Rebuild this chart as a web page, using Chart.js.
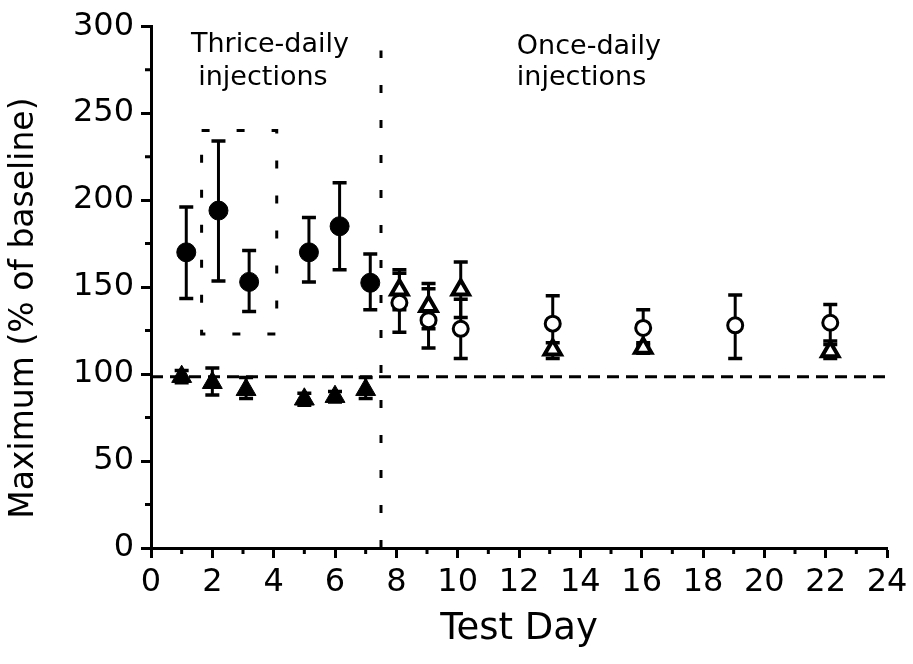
<!DOCTYPE html>
<html><head><meta charset="utf-8">
<script src="https://cdn.jsdelivr.net/npm/chart.js@4.4.1/dist/chart.umd.min.js"></script>
<style>html,body{margin:0;padding:0;background:#fff}</style>
</head><body>
<canvas id="c" width="913" height="664"></canvas>
<script>
// ---- data ----
const thriceDays   = [1.15, 2.2, 3.2, 5.15, 6.15, 7.15];
const thriceDrug   = [170, 194, 153, 170, 185, 152.5];
const thriceDrugHi = [196, 234, 171, 190, 210, 169];
const thriceDrugLo = [143.5, 153.5, 136, 153, 160, 137];

const salineDays = [1, 2, 3.1, 5, 6, 7];
const saline     = [98.5, 95, 91, 85.5, 87, 91];
const salineHi   = [102, 103.5, 98, 89, 90, 98];
const salineLo   = [95, 88, 86, 82, 84, 86];

const onceDays   = [8.1, 9.05, 10.1, 13.1, 16.05, 19.05, 22.15];
const onceDrug   = [141, 131, 126, 129, 126.5, 128, 129.5];
const onceDrugHi = [158, 149, 143, 145, 137, 145.5, 140];
const onceDrugLo = [124, 115, 109, 113, 116.5, 109, 119];

const onceTriDays = [8.1, 9.05, 10.1, 13.1, 16.05, 22.15];
const onceTri     = [148.5, 139, 148.5, 114, 115, 113];
const onceTriHi   = [160, 152, 164.5, 118, 118, 117];
const onceTriLo   = [137, 126, 132.5, 109, 112, 109];

const baselineX = [0, 24];
const baselineY = [98.5, 98.5];
const phaseX = [7.5, 7.5];
const phaseY = [0, 286];
const boxX = [1.65, 4.1, 4.1, 1.65, 1.65];
const boxY = [240, 240, 123, 123, 240];

const xTicks = [0, 24, 2];     // min, max, step
const yTicks = [0, 300, 50];
const xMinor = [1,3,5,7,9,11,13,15,17,19,21,23];
const yMinor = [25,75,125,175,225,275];

const notes = [
  {text:'Thrice-daily', x:3.88, y:285, align:'center'},
  {text:'injections',   x:3.65, y:266, align:'center'},
  {text:'Once-daily',   x:11.93, y:284, align:'left'},
  {text:'injections',   x:11.93, y:266, align:'left'}
];

const FONT = "'DejaVu Sans', sans-serif";
Chart.defaults.font.family = FONT;
Chart.defaults.color = '#000';

const pts = (xs, ys) => xs.map((x, i) => ({x, y: ys[i]}));

const errorSets = [
  [thriceDays, thriceDrugHi, thriceDrugLo],
  [salineDays, salineHi, salineLo],
  [onceDays, onceDrugHi, onceDrugLo],
  [onceTriDays, onceTriHi, onceTriLo]
];

const extras = {
  id: 'extras',
  beforeDatasetsDraw(chart) {
    const {ctx, scales: {x, y}} = chart;
    ctx.save();
    ctx.strokeStyle = '#000';
    ctx.lineCap = 'butt';
    errorSets.forEach(([xs, hi, lo]) => {
      xs.forEach((d, i) => {
        const px = x.getPixelForValue(d);
        const ph = y.getPixelForValue(hi[i]);
        const pl = y.getPixelForValue(lo[i]);
        ctx.lineWidth = 3;
        ctx.beginPath(); ctx.moveTo(px, ph); ctx.lineTo(px, pl); ctx.stroke();
        ctx.lineWidth = 3.5;
        ctx.beginPath();
        ctx.moveTo(px - 7, ph); ctx.lineTo(px + 7, ph);
        ctx.moveTo(px - 7, pl); ctx.lineTo(px + 7, pl);
        ctx.stroke();
      });
    });
    ctx.restore();
  },
  afterDraw(chart) {
    const {ctx, scales: {x, y}, chartArea} = chart;
    ctx.save();
    ctx.strokeStyle = '#000';
    ctx.lineWidth = 3;
    ctx.beginPath();
    yMinor.forEach(v => {
      const py = y.getPixelForValue(v);
      ctx.moveTo(chartArea.left - 6, py); ctx.lineTo(chartArea.left, py);
    });
    xMinor.forEach(v => {
      const px = x.getPixelForValue(v);
      ctx.moveTo(px, chartArea.bottom); ctx.lineTo(px, chartArea.bottom + 6);
    });
    ctx.stroke();
    ctx.fillStyle = '#000';
    ctx.font = "27px " + FONT;
    ctx.textBaseline = 'alphabetic';
    notes.forEach(n => {
      ctx.textAlign = n.align;
      ctx.fillText(n.text, x.getPixelForValue(n.x), y.getPixelForValue(n.y));
    });
    ctx.restore();
  }
};

const lineDs = (xs, ys, dash) => ({
  type: 'line', data: pts(xs, ys), showLine: true, borderColor: '#000',
  borderWidth: 3, borderDash: dash, pointRadius: 0, fill: false, tension: 0,
  borderCapStyle: 'butt'
});

new Chart(document.getElementById('c'), {
  type: 'scatter',
  data: {
    datasets: [
      {label: 'Drug, thrice-daily', data: pts(thriceDays, thriceDrug), pointStyle: 'circle',
       pointRadius: 9.5, backgroundColor: '#000', borderColor: '#000', borderWidth: 1},
      {label: 'Drug, once-daily', data: pts(onceDays, onceDrug), pointStyle: 'circle',
       pointRadius: 7.5, backgroundColor: '#fff', borderColor: '#000', borderWidth: 3},
      {label: 'Saline, thrice-daily', data: pts(salineDays, saline), pointStyle: 'triangle',
       pointRadius: 11.5, backgroundColor: '#000', borderColor: '#000', borderWidth: 1},
      {label: 'Saline, once-daily', data: pts(onceTriDays, onceTri), pointStyle: 'triangle',
       pointRadius: 9.5, backgroundColor: '#fff', borderColor: '#000', borderWidth: 4},
      lineDs(baselineX, baselineY, [12, 7]),
      lineDs(phaseX, phaseY, [8, 27]),
      lineDs(boxX, boxY, [8, 27])
    ]
  },
  options: {
    responsive: false, animation: false, devicePixelRatio: 1,
    layout: {padding: {left: 0, right: 26, top: 26, bottom: 0}},
    plugins: {legend: {display: false}, tooltip: {enabled: false}},
    scales: {
      x: {
        type: 'linear', min: xTicks[0], max: xTicks[1],
        ticks: {stepSize: xTicks[2], font: {size: 32}, color: '#000', padding: 5, maxRotation: 0},
        grid: {drawOnChartArea: false, drawTicks: true, tickLength: 10, tickWidth: 3, color: '#000'},
        border: {display: true, color: '#000', width: 3},
        title: {display: true, text: 'Test Day', font: {size: 37}, color: '#000', padding: {top: 0, bottom: 12}},
        afterFit(s) { s.height = 116; }
      },
      y: {
        min: yTicks[0], max: yTicks[1],
        ticks: {stepSize: yTicks[2], font: {size: 32}, color: '#000', padding: 7},
        grid: {drawOnChartArea: false, drawTicks: true, tickLength: 10, tickWidth: 3, color: '#000'},
        border: {display: true, color: '#000', width: 3},
        title: {display: true, text: 'Maximum (% of baseline)    ', font: {size: 33}, color: '#000', padding: {top: 5, bottom: 0}},
        afterFit(s) { s.width = 151; }
      }
    }
  },
  plugins: [extras]
});
</script>
</body></html>
